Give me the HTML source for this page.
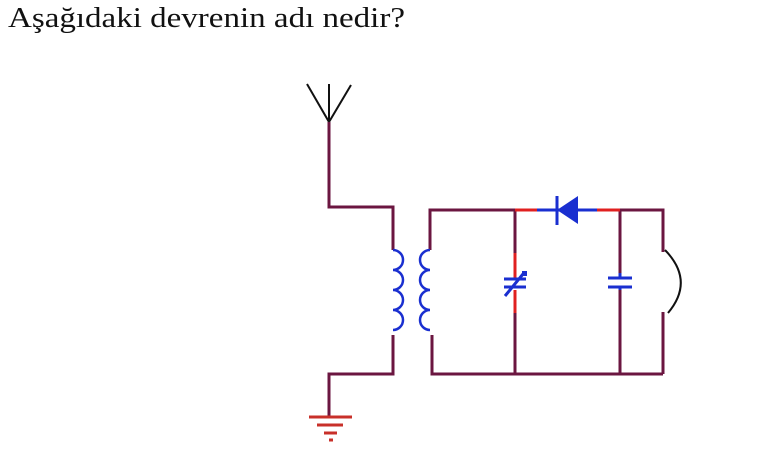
<!DOCTYPE html>
<html><head><meta charset="utf-8"><style>
html,body{margin:0;padding:0;background:#fff;width:768px;height:464px;overflow:hidden}
</style></head><body>
<svg width="768" height="464" xmlns="http://www.w3.org/2000/svg">
<text x="8" y="27" font-family="Liberation Serif, serif" font-size="28" fill="#111" textLength="397" lengthAdjust="spacingAndGlyphs">Aşağıdaki devrenin adı nedir?</text>
<g fill="none" stroke-width="3">
<path d="M307 84 L329 122 L351 85 M329 84 L329 122" stroke="#111" stroke-width="2"/>
<path d="M329 122 V207 H393 V250 M393 335 V374 H329 V416" stroke="#6b1640"/>
<path d="M430 250 V210 H515 M432 335 V374 H663 M515 210 V253 M515 313 V374 M620 210 H663 V252 M663 312 V374 M620 210 V273 M620 290 V374" stroke="#6b1640"/>
<path d="M309 417 H352 M317 425 H343 M324 433 H337 M329 440 H333" stroke="#c8302a"/>
<path d="M393 250 a10 10 0 0 1 0 20 a10 10 0 0 1 0 20 a10 10 0 0 1 0 20 a10 10 0 0 1 0 20" stroke="#1a2fd0" stroke-width="2.5"/>
<path d="M430 250 a10 10 0 0 0 0 20 a10 10 0 0 0 0 20 a10 10 0 0 0 0 20 a10 10 0 0 0 0 20" stroke="#1a2fd0" stroke-width="2.5"/>
<path d="M515 253 V279 M515 290 V313 M515 210 H537 M597 210 H620" stroke="#e02020"/>
<path d="M504 279 H526 M504 287 H526 M505 296 L523 274" stroke="#1a2fd0"/>
<rect x="522" y="271" width="5" height="5" fill="#1a2fd0"/>
<path d="M537 210 H578 M578 210 H597 M557 196 V225" stroke="#1a2fd0"/>
<polygon points="557,210 578,196 578,224" fill="#1a2fd0"/>
<path d="M608 278 H632 M608 287 H632" stroke="#1a2fd0"/>
<path d="M620 273 V278 M620 287 V290" stroke="#1a2fd0"/>
<path d="M665 250 Q695 281 668 313" stroke="#111" stroke-width="2"/>
</g>
</svg>
</body></html>
